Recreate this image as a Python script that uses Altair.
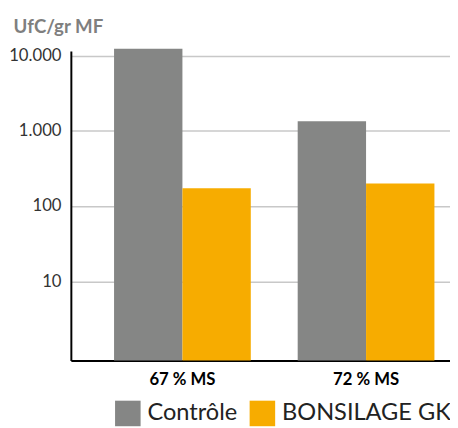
import altair as alt
import pandas as pd

groups = ["67 % MS", "72 % MS"]
series = ["Contrôle", "BONSILAGE GKS"]
controle = [12300, 1340]
bonsilage = [172, 199]
colors = ["#858685", "#F7AC00"]
tick_values = [10, 100, 1000, 10000]
y_min, y_max = 0.892, 11450

rows = []
for g, c, b in zip(groups, controle, bonsilage):
    rows.append({"group": g, "series": series[0], "value": c})
    rows.append({"group": g, "series": series[1], "value": b})
df = pd.DataFrame(rows)

FONT = "Lato"

bars = alt.Chart(df).mark_bar().encode(
    x=alt.X("group:N", sort=groups, title=None,
            scale=alt.Scale(paddingInner=0.2554, paddingOuter=0.16, align=0.735),
            axis=alt.Axis(labelAngle=0, labelFont=FONT, labelFontSize=17, labelFontWeight="bold",
                          labelColor="#000000", labelPadding=12, ticks=False,
                          domainColor="#000000", domainWidth=2)),
    xOffset=alt.XOffset("series:N", sort=series),
    y=alt.Y("value:Q", title=None, stack=None,
            scale=alt.Scale(type="log", domain=[y_min, y_max]),
            axis=alt.Axis(values=tick_values, ticks=False, grid=True, gridColor="#c8c8c8", gridWidth=1.5,
                          domainColor="#000000", domainWidth=2, labelPadding=10,
                          labelFont=FONT, labelFontSize=17, labelColor="#333333",
                          labelExpr="replace(format(datum.value, ','), ',', '.')")),
    y2=alt.Y2Datum(y_min),
    color=alt.Color("series:N", sort=series, scale=alt.Scale(domain=series, range=colors),
                    legend=alt.Legend(title=None, orient="none", direction="horizontal",
                                      legendX=45, legendY=356, symbolType="square", symbolSize=676,
                                      symbolStrokeWidth=0, labelFont=FONT, labelFontSize=24,
                                      labelColor="#222222", labelOffset=7, columnPadding=12,
                                      labelLimit=0, symbolOpacity=1)),
)

chart = bars.properties(
    width=386, height=315,
    autosize=alt.AutoSizeParams(type="none"),
    padding={"left": 64, "top": 40, "right": 0, "bottom": 64},
    title=alt.TitleParams("UfC/gr MF", anchor="start", dx=5, offset=10, font=FONT,
                          fontSize=19, fontWeight="bold", color="#7f7f7f"),
).configure_view(stroke=None)

chart.save("out.html", embed_options={"renderer": "svg", "actions": False})
